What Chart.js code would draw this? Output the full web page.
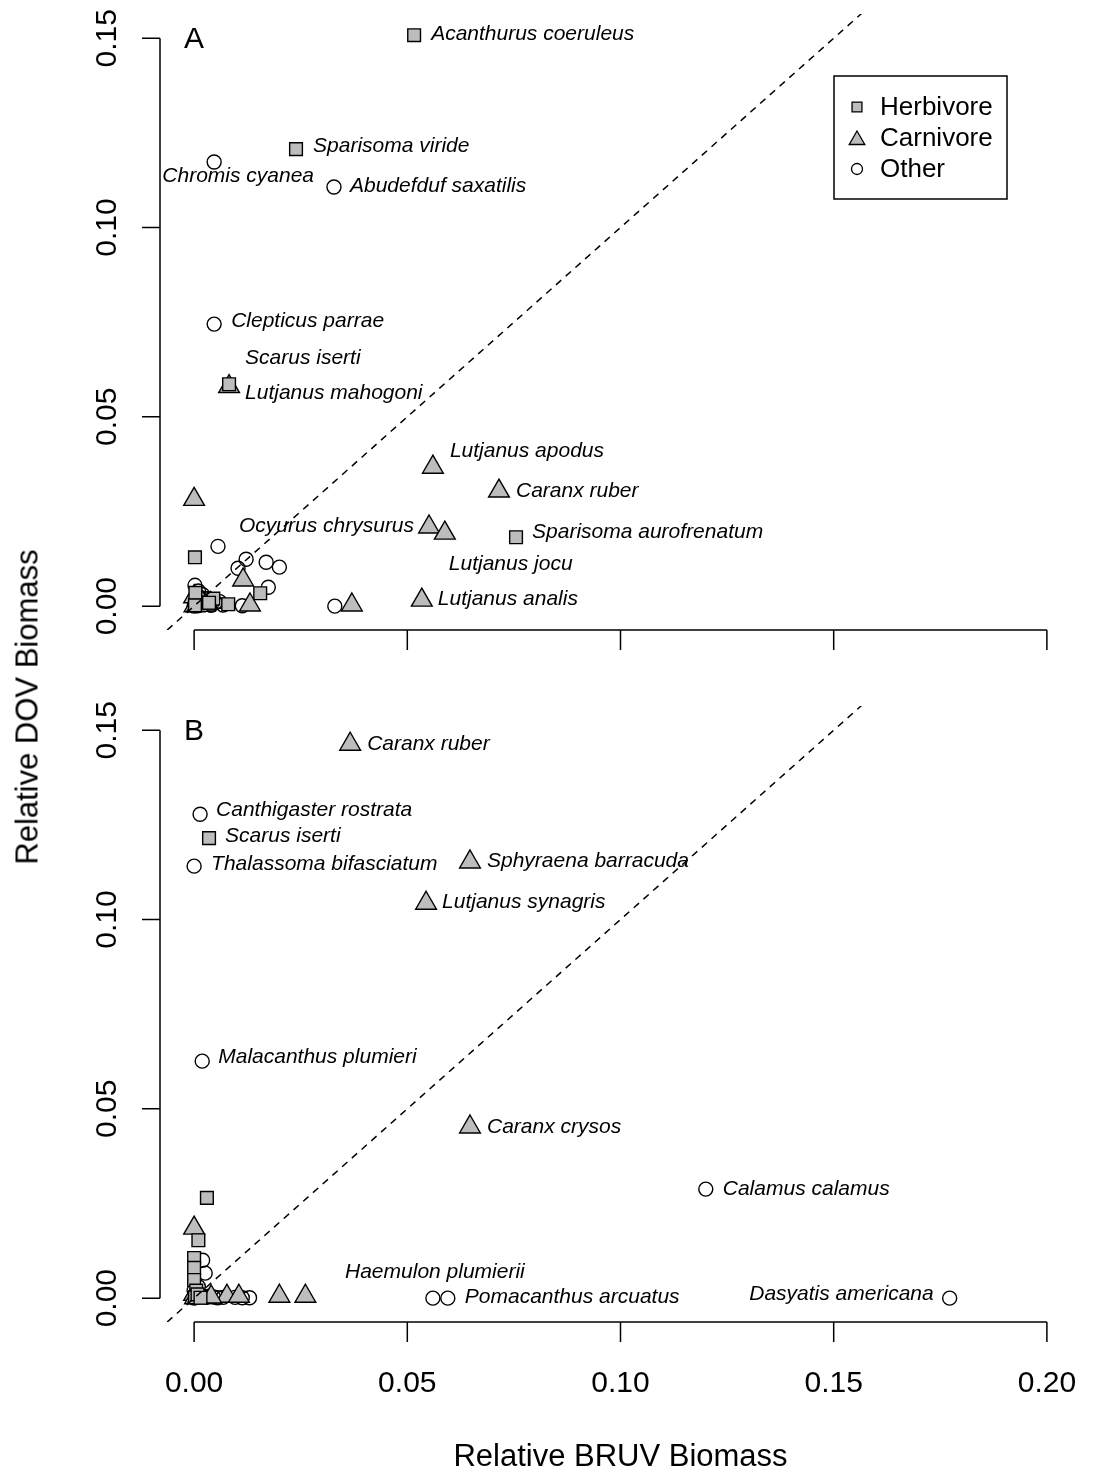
<!DOCTYPE html>
<html>
<head>
<meta charset="utf-8">
<script src="https://cdn.jsdelivr.net/npm/chart.js@4/dist/chart.umd.min.js"></script>
<style>
  html, body { margin: 0; padding: 0; background: #fff; }
  #page { position: relative; width: 1097px; height: 1471px; overflow: hidden; background: #fff; }
  #panelA { position: absolute; left: 0; top: 0; }
  #panelB { position: absolute; left: 0; top: 692px; }
  #ytitle {
    position: absolute; left: 27px; top: 707px;
    transform: translate(-50%, -50%) rotate(-90deg);
    font: 31px "Liberation Sans", Arial, Helvetica, sans-serif;
    white-space: nowrap; color: #000; line-height: 1;
  }
</style>
</head>
<body>
<div id="page">
  <canvas id="panelA" width="1097" height="692"></canvas>
  <canvas id="panelB" width="1097" height="779"></canvas>
  <div id="ytitle">Relative DOV Biomass</div>
</div>
<script>
// ---- axis ticks ----
const xTicks = [0, 0.05, 0.10, 0.15, 0.20];
const xTickLabels = ['0.00', '0.05', '0.10', '0.15', '0.20'];
const yTicks = [0, 0.05, 0.10, 0.15];
const yTickLabels = ['0.00', '0.05', '0.10', '0.15'];

const groupNames = ['Herbivore', 'Carnivore', 'Other'];

// ---- Panel A: unlabelled species (BRUV x, DOV y) ----
const aHerbX = [0.0002, 0.0155, 0.0045, 0.0015, 0.0080, 0.0003, 0.0002, 0.0035];
const aHerbY = [0.0129, 0.0034, 0.0020, 0.0010, 0.0005, 0.0035, 0.0002, 0.0009];
const aCarnX = [0.0000, 0.0115, 0.0131, 0.0370, 0.0005, 0.0015, 0.0000, 0.0025, 0.0001, 0.0008, 0.0020];
const aCarnY = [0.0282, 0.0069, 0.0003, 0.0003, 0.0005, 0.0015, 0.0025, 0.0003, 0.0001, 0.0002, 0.0008];
const aOthX = [0.0002, 0.0056, 0.0122, 0.0103, 0.0169, 0.0200, 0.0174, 0.0330, 0.0113, 0.0068,
               0.0050, 0.0030, 0.0015, 0.0005, 0.0020, 0.0008, 0.0040, 0.0060, 0.0010,
               0.0000, 0.0005, 0.0010, 0.0025, 0.0035, 0.0002, 0.0012];
const aOthY = [0.0055, 0.0158, 0.0124, 0.0100, 0.0116, 0.0103, 0.0050, 0.0000, 0.0001, 0.0003,
               0.0010, 0.0020, 0.0005, 0.0015, 0.0030, 0.0001, 0.0002, 0.0012, 0.0040,
               0.0000, 0.0003, 0.0008, 0.0006, 0.0004, 0.0022, 0.0025];

// ---- Panel A: named species ----
const aNames = ['Acanthurus coeruleus', 'Sparisoma viride', 'Chromis cyanea', 'Abudefduf saxatilis',
                'Clepticus parrae', 'Scarus iserti', 'Lutjanus mahogoni', 'Lutjanus apodus',
                'Caranx ruber', 'Ocyurus chrysurus', 'Lutjanus jocu', 'Sparisoma aurofrenatum',
                'Lutjanus analis'];
const aGroup = ['Herbivore', 'Herbivore', 'Other', 'Other', 'Other', 'Herbivore', 'Carnivore',
                'Carnivore', 'Carnivore', 'Carnivore', 'Carnivore', 'Herbivore', 'Carnivore'];
const aNamedX = [0.0516, 0.0239, 0.0047, 0.0328, 0.0047, 0.0082, 0.0082, 0.0560, 0.0715, 0.0551, 0.0588, 0.0755, 0.0534];
const aNamedY = [0.1508, 0.1207, 0.1173, 0.1107, 0.0745, 0.0586, 0.0580, 0.0367, 0.0304, 0.0209, 0.0193, 0.0182, 0.0016];

// ---- Panel B: unlabelled species ----
const bHerbX = [0.0030, 0.0010, 0.0000, 0.0000, 0.0000, 0.0005, 0.0010, 0.0002, 0.0008, 0.0015];
const bHerbY = [0.0265, 0.0153, 0.0106, 0.0080, 0.0048, 0.0020, 0.0005, 0.0002, 0.0010, 0.0001];
const bCarnX = [0.0000, 0.0077, 0.0105, 0.0200, 0.0261, 0.0000, 0.0015, 0.0002, 0.0010, 0.0040];
const bCarnY = [0.0185, 0.0005, 0.0005, 0.0005, 0.0005, 0.0010, 0.0002, 0.0001, 0.0004, 0.0003];
const bOthX = [0.0020, 0.0026, 0.0045, 0.0068, 0.0096, 0.0113, 0.0130, 0.0010, 0.0005, 0.0020, 0.0000,
               0.0000, 0.0005, 0.0015, 0.0030, 0.0035, 0.0055];
const bOthY = [0.0100, 0.0066, 0.0003, 0.0002, 0.0002, 0.0001, 0.0001, 0.0030, 0.0012, 0.0005, 0.0020,
               0.0000, 0.0002, 0.0008, 0.0002, 0.0005, 0.0001];

// ---- Panel B: named species ----
const bNames = ['Caranx ruber', 'Canthigaster rostrata', 'Scarus iserti', 'Thalassoma bifasciatum',
                'Sphyraena barracuda', 'Lutjanus synagris', 'Malacanthus plumieri', 'Caranx crysos',
                'Calamus calamus', 'Haemulon plumierii', 'Pomacanthus arcuatus', 'Dasyatis americana'];
const bGroup = ['Carnivore', 'Other', 'Herbivore', 'Other', 'Carnivore', 'Carnivore', 'Other',
                'Carnivore', 'Other', 'Other', 'Other', 'Other'];
const bNamedX = [0.0366, 0.0014, 0.0035, 0.0000, 0.0647, 0.0544, 0.0019, 0.0647, 0.1200, 0.0560, 0.0595, 0.1772];
const bNamedY = [0.1463, 0.1278, 0.1215, 0.1141, 0.1152, 0.1043, 0.0626, 0.0452, 0.0288, 0.0000, 0.0000, 0.0000];

// ---- label placement relative to each marker: [dx px, dy px, text alignment] ----
const aLabelPlace = [[17, -1, 'left'], [17, -3, 'left'], [24, 14, 'center'], [16, -1, 'left'],
                     [17, -3, 'left'], [16, -26, 'left'], [16, 7, 'left'], [17, -16, 'left'],
                     [17, 0, 'left'], [-15, -1, 'right'], [4, 31, 'left'], [16, -5, 'left'],
                     [16, -1, 'left']];
const bLabelPlace = [[17, 0, 'left'], [16, -4, 'left'], [16, -2, 'left'], [17, -2, 'left'],
                     [17, -1, 'left'], [16, -1, 'left'], [16, -4, 'left'], [17, 0, 'left'],
                     [17, 0, 'left'], [2, -26, 'center'], [17, -1, 'left'], [-16, -4, 'right']];

// ---- styling ----
const FONT = '"Liberation Sans", Arial, Helvetica, sans-serif';
const GREY = '#bdbdbd';
const markerStyle = {
  Herbivore: { pointStyle: 'rect', radius: 9, fill: GREY },
  Carnivore: { pointStyle: 'triangle', radius: 12, fill: GREY },
  Other: { pointStyle: 'circle', radius: 7, fill: 'rgba(0,0,0,0)' }
};

function zipXY(xs, ys) { return xs.map((x, i) => ({ x: x, y: ys[i] })); }

function groupPoints(group, baseX, baseY, names, groups, nx, ny) {
  const pts = zipXY(baseX, baseY);
  names.forEach((n, i) => { if (groups[i] === group) pts.push({ x: nx[i], y: ny[i] }); });
  return pts;
}

function buildDatasets(base, names, groups, nx, ny) {
  const ds = [{
    type: 'line',
    label: '1:1',
    data: [{ x: -0.02, y: -0.02 }, { x: 0.22, y: 0.22 }],
    borderColor: '#000', borderWidth: 1.5, borderDash: [7, 6],
    pointRadius: 0, fill: false, order: 0
  }];
  groupNames.forEach((g, k) => {
    const st = markerStyle[g];
    ds.push({
      type: 'scatter',
      label: g,
      data: groupPoints(g, base[k][0], base[k][1], names, groups, nx, ny),
      pointStyle: st.pointStyle,
      pointRadius: st.radius,
      backgroundColor: st.fill,
      borderColor: '#000',
      borderWidth: 1.4,
      order: 1
    });
  });
  return ds;
}

function drawMarker(ctx, style, x, y, r) {
  ctx.save();
  ctx.beginPath();
  if (style === 'rect') {
    const s = Math.SQRT1_2 * r;
    ctx.rect(x - s, y - s, 2 * s, 2 * s);
  } else if (style === 'triangle') {
    for (let i = 0; i < 3; i++) {
      const a = i * 2 * Math.PI / 3;
      const px = x + Math.sin(a) * r, py = y - Math.cos(a) * r;
      if (i === 0) ctx.moveTo(px, py); else ctx.lineTo(px, py);
    }
    ctx.closePath();
  } else {
    ctx.arc(x, y, r, 0, 2 * Math.PI);
  }
  ctx.fill();
  ctx.stroke();
  ctx.restore();
}

// Axes, species names, panel letter and legend in base-graphics style
function panelDecor(opts) {
  return {
    id: 'panelDecor' + opts.letter,
    afterDatasetsDraw(chart) {
      const ctx = chart.ctx;
      const xs = chart.scales.x, ys = chart.scales.y;
      const area = chart.chartArea;
      ctx.save();
      ctx.strokeStyle = '#000';
      ctx.fillStyle = '#000';
      ctx.lineWidth = 1.5;

      // y axis
      const yTop = ys.getPixelForValue(yTicks[yTicks.length - 1]);
      const yBot = ys.getPixelForValue(yTicks[0]);
      ctx.beginPath();
      ctx.moveTo(area.left, yTop); ctx.lineTo(area.left, yBot);
      yTicks.forEach(v => {
        const p = ys.getPixelForValue(v);
        ctx.moveTo(area.left, p); ctx.lineTo(area.left - 18, p);
      });
      ctx.stroke();
      ctx.font = '30px ' + FONT;
      ctx.textAlign = 'center';
      ctx.textBaseline = 'alphabetic';
      yTicks.forEach((v, i) => {
        const p = ys.getPixelForValue(v);
        ctx.save();
        ctx.translate(area.left - 44, p);
        ctx.rotate(-Math.PI / 2);
        ctx.fillText(yTickLabels[i], 0, 0);
        ctx.restore();
      });

      // x axis
      const xL = xs.getPixelForValue(xTicks[0]);
      const xR = xs.getPixelForValue(xTicks[xTicks.length - 1]);
      ctx.beginPath();
      ctx.moveTo(xL, area.bottom); ctx.lineTo(xR, area.bottom);
      xTicks.forEach(v => {
        const p = xs.getPixelForValue(v);
        ctx.moveTo(p, area.bottom); ctx.lineTo(p, area.bottom + 20);
      });
      ctx.stroke();
      if (opts.xLabels) {
        ctx.font = '30px ' + FONT;
        ctx.textAlign = 'center';
        ctx.textBaseline = 'alphabetic';
        xTicks.forEach((v, i) => {
          ctx.fillText(xTickLabels[i], xs.getPixelForValue(v), area.bottom + 70);
        });
        ctx.font = '31px ' + FONT;
        ctx.fillText('Relative BRUV Biomass', (xL + xR) / 2, area.bottom + 144);
      }

      // panel letter
      ctx.font = '30px ' + FONT;
      ctx.textAlign = 'center';
      ctx.textBaseline = 'middle';
      ctx.fillText(opts.letter, xs.getPixelForValue(0), ys.getPixelForValue(0.15) + 2);

      // species names
      ctx.font = 'italic 21px ' + FONT;
      ctx.textBaseline = 'middle';
      opts.names.forEach((n, i) => {
        const px = xs.getPixelForValue(opts.nx[i]);
        const py = ys.getPixelForValue(opts.ny[i]);
        const pl = opts.place[i];
        ctx.textAlign = pl[2];
        ctx.fillText(n, px + pl[0], py + pl[1]);
      });

      // legend
      if (opts.legend) {
        const bx = 834, by = 76, bw = 173, bh = 123;
        ctx.lineWidth = 1.5;
        ctx.strokeRect(bx, by, bw, bh);
        ctx.font = '26px ' + FONT;
        ctx.textAlign = 'left';
        ctx.textBaseline = 'middle';
        const legendR = { Herbivore: 7, Carnivore: 9, Other: 5.5 };
        groupNames.forEach((g, k) => {
          const cy = by + 31 + k * 31;
          ctx.fillStyle = markerStyle[g].fill;
          ctx.strokeStyle = '#000';
          ctx.lineWidth = 1.3;
          drawMarker(ctx, markerStyle[g].pointStyle, bx + 23, cy + (g === 'Carnivore' ? 2 : 0), legendR[g]);
          ctx.fillStyle = '#000';
          ctx.fillText(g, bx + 46, cy + 1);
        });
      }
      ctx.restore();
    }
  };
}

function makePanel(canvasId, height, base, names, groups, nx, ny, place, letter, legend, xLabels) {
  return new Chart(document.getElementById(canvasId), {
    type: 'scatter',
    data: { datasets: buildDatasets(base, names, groups, nx, ny) },
    options: {
      responsive: false,
      animation: false,
      events: [],
      layout: { padding: { left: 160, top: 14, right: 16, bottom: height - 630 } },
      scales: {
        x: { type: 'linear', min: -0.008, max: 0.208, display: false },
        y: { type: 'linear', min: -0.0063, max: 0.1564, display: false }
      },
      plugins: { legend: { display: false }, tooltip: { enabled: false } }
    },
    plugins: [panelDecor({ letter, names, nx, ny, place, legend, xLabels })]
  });
}

makePanel('panelA', 692,
  [[aHerbX, aHerbY], [aCarnX, aCarnY], [aOthX, aOthY]],
  aNames, aGroup, aNamedX, aNamedY, aLabelPlace, 'A', true, false);

makePanel('panelB', 779,
  [[bHerbX, bHerbY], [bCarnX, bCarnY], [bOthX, bOthY]],
  bNames, bGroup, bNamedX, bNamedY, bLabelPlace, 'B', false, true);
</script>
</body>
</html>
